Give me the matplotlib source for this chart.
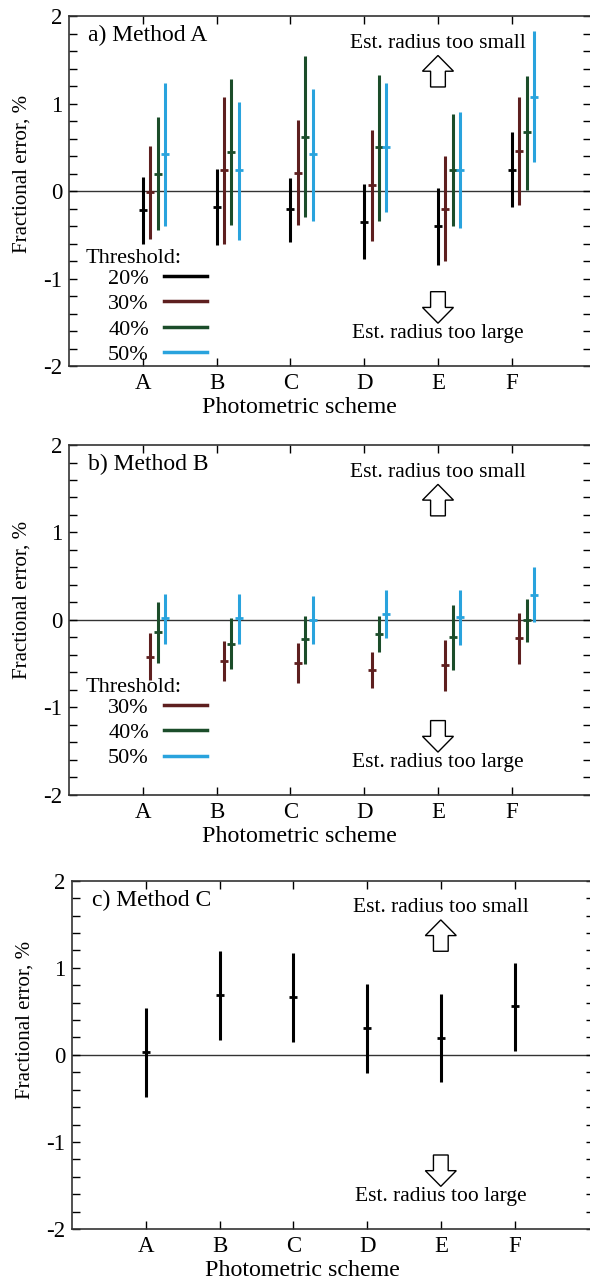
import matplotlib
matplotlib.use("Agg")
import matplotlib.pyplot as plt
from matplotlib.lines import Line2D
from matplotlib.patches import FancyArrow
from matplotlib.ticker import MultipleLocator
import numpy as np

plt.rcParams['font.family'] = ['Liberation Serif', 'DejaVu Serif']
plt.rcParams['axes.unicode_minus'] = False

schemes = ['A', 'B', 'C', 'D', 'E', 'F']
thresholdsA = ['20%', '30%', '40%', '50%']
thresholdsB = ['30%', '40%', '50%']
colorsA = ['#000000', '#5e1f1f', '#1b4d2a', '#29a3dd']
colorsB = ['#5e1f1f', '#1b4d2a', '#29a3dd']
offsetsA = [0.0, 0.1, 0.2, 0.3]
offsetsB = [0.1, 0.2, 0.3]

# Method A (rows: 20%, 30%, 40%, 50%)
methodA_mid = [[-0.22, -0.18, -0.21, -0.35, -0.40, 0.24],
               [-0.01, 0.24, 0.21, 0.07, -0.21, 0.46],
               [0.20, 0.45, 0.62, 0.50, 0.24, 0.67],
               [0.42, 0.24, 0.42, 0.50, 0.24, 1.08]]
methodA_lo = [[-0.61, -0.62, -0.58, -0.78, -0.84, -0.18],
              [-0.55, -0.60, -0.39, -0.57, -0.80, -0.16],
              [-0.45, -0.39, -0.30, -0.34, -0.40, 0.01],
              [-0.40, -0.56, -0.34, -0.24, -0.42, 0.33]]
methodA_hi = [[0.16, 0.25, 0.15, 0.08, 0.03, 0.67],
              [0.51, 1.07, 0.81, 0.70, 0.40, 1.07],
              [0.85, 1.28, 1.54, 1.33, 0.88, 1.31],
              [1.23, 1.02, 1.17, 1.23, 0.90, 1.83]]

# Method B (rows: 30%, 40%, 50%)
methodB_mid = [[-0.42, -0.47, -0.49, -0.57, -0.51, -0.21],
               [-0.14, -0.27, -0.22, -0.16, -0.20, 0.00],
               [0.02, 0.02, 0.00, 0.07, 0.03, 0.29]]
methodB_lo = [[-0.69, -0.70, -0.72, -0.78, -0.81, -0.50],
              [-0.49, -0.56, -0.50, -0.37, -0.57, -0.25],
              [-0.27, -0.27, -0.27, -0.21, -0.29, -0.02]]
methodB_hi = [[-0.15, -0.24, -0.26, -0.37, -0.23, 0.08],
              [0.21, 0.02, 0.05, 0.05, 0.17, 0.24],
              [0.30, 0.30, 0.27, 0.34, 0.34, 0.60]]

# Method C
methodC_mid = [0.03, 0.69, 0.67, 0.31, 0.19, 0.56]
methodC_lo = [-0.48, 0.17, 0.15, -0.21, -0.31, 0.04]
methodC_hi = [0.54, 1.19, 1.17, 0.81, 0.70, 1.06]

FS = 17


def drawBars(ax, x, mid, lo, hi, color):
    mid = np.array(mid)
    yerr = [mid - np.array(lo), np.array(hi) - mid]
    ax.errorbar(x, mid, yerr=yerr, fmt='_', color=color, ecolor=color,
                elinewidth=2.2, capsize=0, ms=6, mew=2)


def setupAxes(ax, title, ylabY):
    xpos = np.arange(1, len(schemes) + 1)
    ax.set_xlim(0, 7.08)
    ax.set_ylim(-2, 2)
    ax.set_xticks(xpos)
    ax.set_xticklabels(schemes)
    ax.yaxis.set_major_locator(MultipleLocator(1))
    ax.yaxis.set_minor_locator(MultipleLocator(0.2))
    ax.tick_params(axis='both', which='both', direction='in', length=6,
                   width=1, top=True, right=True, labelsize=16.5, pad=5)
    ax.axhline(0, color='#333333', lw=1, zorder=0)
    ax.set_xlabel("Photometric scheme", fontsize=17.3)
    ax.xaxis.set_label_coords(0.442, -0.088)
    ax.set_ylabel("Fractional error, %", fontsize=15)
    ax.yaxis.set_label_coords(-0.072, ylabY)
    for s in ax.spines.values():
        s.set_linewidth(1.2)
        s.set_color('#333333')
    ax.text(0.037, 0.975, title, transform=ax.transAxes, fontsize=FS,
            ha='left', va='top')
    ax.text(5, 1.69, "Est. radius too small", fontsize=15.5, ha='center', va='center')
    ax.text(5, -1.63, "Est. radius too large", fontsize=15.5, ha='center', va='center')
    ax.add_patch(FancyArrow(5, 1.19, 0, 0.36, width=0.2, head_width=0.42,
                            head_length=0.18, length_includes_head=True,
                            fc='white', ec='black', lw=1))
    ax.add_patch(FancyArrow(5, -1.15, 0, -0.36, width=0.2, head_width=0.42,
                            head_length=0.18, length_includes_head=True,
                            fc='white', ec='black', lw=1))


def addLegend(ax, labels, colors):
    ax.text(0.031, 0.308, "Threshold:", transform=ax.transAxes, fontsize=16,
            ha='left', va='center')
    handles = [Line2D([], [], color=c, lw=2.5) for c in colors]
    ax.legend(handles, labels, loc='upper left', bbox_to_anchor=(0.075, 0.28),
              frameon=False, markerfirst=False, fontsize=16, handlelength=1.9,
              handletextpad=0.7, labelspacing=0.22, borderpad=0, borderaxespad=0)


fig = plt.figure(figsize=(5.9, 12.88), dpi=100)
xpos = np.arange(1, len(schemes) + 1)

axA = fig.add_axes([0.1169, 0.7158, 0.8856, 0.2717])
setupAxes(axA, "a) Method A", 0.55)
for i in range(len(thresholdsA)):
    drawBars(axA, xpos + offsetsA[i], methodA_mid[i], methodA_lo[i], methodA_hi[i], colorsA[i])
addLegend(axA, thresholdsA, colorsA)

axB = fig.add_axes([0.1169, 0.3828, 0.8856, 0.2717])
setupAxes(axB, "b) Method B", 0.557)
for i in range(len(thresholdsB)):
    drawBars(axB, xpos + offsetsB[i], methodB_mid[i], methodB_lo[i], methodB_hi[i], colorsB[i])
addLegend(axB, thresholdsB, colorsB)

axC = fig.add_axes([0.1225, 0.0458, 0.8845, 0.2704])
setupAxes(axC, "c) Method C", 0.6)
drawBars(axC, xpos, methodC_mid, methodC_lo, methodC_hi, '#000000')

fig.savefig("out.png", dpi=100)
plt.close()
